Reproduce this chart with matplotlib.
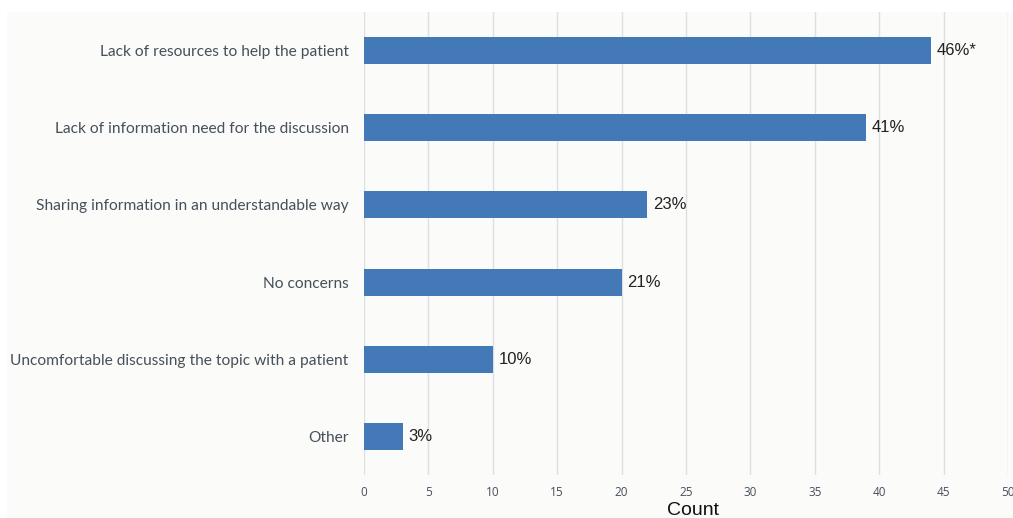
import matplotlib.pyplot as plt
from matplotlib.patches import Rectangle

categories = ['Lack of resources to help the patient',
              'Lack of information need for the discussion',
              'Sharing information in an understandable way',
              'No concerns',
              'Uncomfortable discussing the topic with a patient',
              'Other']
counts = [44, 39, 22, 20, 10, 3]
pct_labels = ['46%*', '41%', '23%', '21%', '10%', '3%']
x_ticks = [0, 5, 10, 15, 20, 25, 30, 35, 40, 45, 50]

bar_color = '#4479b8'
bg_color = '#fbfbf9'
label_color = '#46505a'

fig = plt.figure(figsize=(10.13, 5.18), dpi=100, facecolor='white')
# off-white panel behind everything
panel = Rectangle((7/1013, 0), 1 - 7/1013, 1 - 12/518,
                  transform=fig.transFigure, facecolor=bg_color,
                  edgecolor='none', zorder=-10)
fig.add_artist(panel)

ax = fig.add_axes([364/1013, 43/518, 644/1013, 463/518])
ax.set_facecolor(bg_color)

y = list(range(len(categories)))
ax.barh(y, counts, height=0.35, color=bar_color, zorder=3)
ax.set_ylim(len(categories) - 0.5, -0.5)
ax.set_xlim(0, 50)
ax.set_xticks(x_ticks)
ax.set_yticks(y)
ax.set_yticklabels(categories, fontsize=11.2, color=label_color, family='Lato')
ax.tick_params(axis='y', length=0, pad=11)
ax.tick_params(axis='x', length=0, pad=8, labelsize=8.5, labelcolor=label_color)
for lab in ax.get_xticklabels():
    lab.set_family('Open Sans')

for s in ['top', 'bottom', 'left', 'right']:
    ax.spines[s].set_visible(False)
ax.grid(axis='x', color='#dcdfe3', linewidth=1, zorder=0)

# value labels
for yi, c, lab in zip(y, counts, pct_labels):
    ax.text(c + 0.45, yi, lab, va='center', ha='left', fontsize=12,
            family='Liberation Sans', color='#222222')

ax.set_xlabel('Count', fontsize=14, family='Liberation Sans', color='#111111')
ax.xaxis.set_label_coords(0.511, -0.058)

fig.savefig('out.png', dpi=100, facecolor='white')
